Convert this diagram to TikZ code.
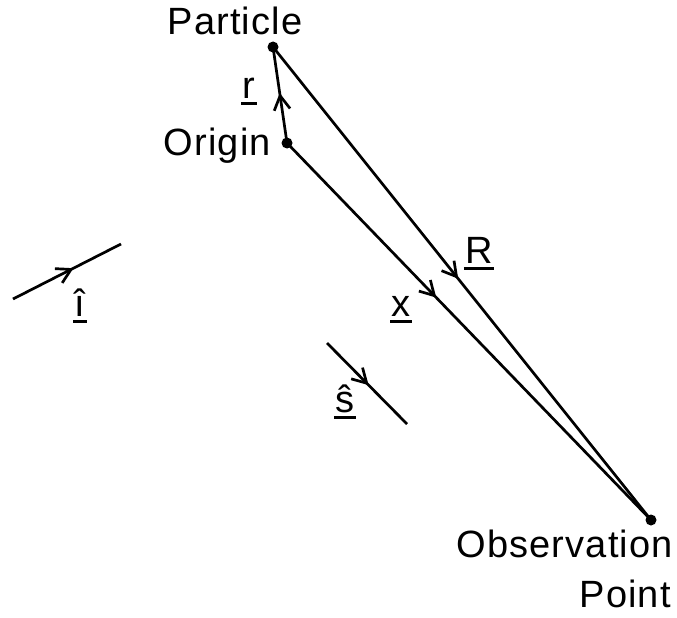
\documentclass[tikz,border=0pt]{standalone}
\usepackage{fontspec}
\setmainfont[LetterSpace=3]{Liberation Sans}
\usetikzlibrary{arrows.meta,decorations.markings}
\newcommand\vecul[1]{\setbox0\hbox{#1}\rlap{\kern-1.5pt\rule[-7pt]{\dimexpr\wd0+3pt\relax}{2.6pt}}\box0}
\tikzset{
  lbl/.style={font=\fontsize{38}{42}\selectfont, inner sep=0pt},
  dotpt/.style={circle, fill=black, inner sep=0pt, minimum size=11pt},
  vec/.style={line width=2.7pt},
  midarrow/.style={postaction={decorate},decoration={markings,
     mark=at position #1 with {\arrow{Straight Barb[length=14pt,width=16pt,line width=2.7pt]}}}}
}
\begin{document}
\begin{tikzpicture}[x=1pt,y=-1pt]
\useasboundingbox (0,0) rectangle (677,618);
\node[dotpt] (P) at (273,47) {};
\node[dotpt] (O) at (287,143) {};
\node[dotpt] (Q) at (651,520) {};
\coordinate (i1) at (13,299);
\coordinate (i2) at (121,244);
\coordinate (s1) at (327,343);
\coordinate (s2) at (407,424);

\draw[vec, midarrow=0.52] (O.center) -- (P.center);
\draw[vec, midarrow=0.49] (P.center) -- (Q.center);
\draw[vec, midarrow=0.41] (O.center) -- (Q.center);
\draw[vec, midarrow=0.56] (i1) -- (i2);
\draw[vec, midarrow=0.52] (s1) -- (s2);

\node[lbl, anchor=base] (lp) at (235,35) {Particle};
\node[lbl, anchor=base east] (lo) at (271,155) {Origin};
\node[lbl, anchor=base east] (lq) at (673,557) {Observation};
\node[lbl, anchor=base east] (lpt) at (671,607) {Point};
\node[lbl, anchor=base] (lr) at (249,98) {\vecul{r}};
\node[lbl, anchor=base] (lR) at (479,263) {\vecul{R}};
\node[lbl, anchor=base] (lx) at (401,316) {\vecul{x}};
\node[lbl, anchor=base] (li) at (80,316) {\vecul{î}};
\node[lbl, anchor=base] (ls) at (345,412) {\vecul{ŝ}};
\end{tikzpicture}
\end{document}
